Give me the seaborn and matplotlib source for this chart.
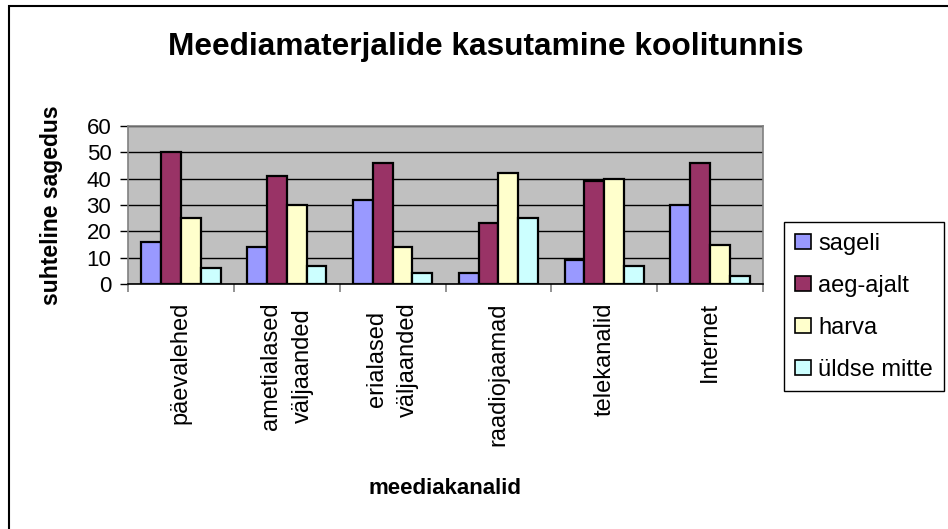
import matplotlib
matplotlib.use("Agg")
import matplotlib.pyplot as plt
import matplotlib.patches as mpatches
from matplotlib.ticker import FixedLocator, MultipleLocator
import seaborn as sns
import pandas as pd

categories = ["päevalehed", "ametialased\nväljaanded", "erialased\nväljaanded",
              "raadiojaamad", "telekanalid", "Internet"]
series_names = ["sageli", "aeg-ajalt", "harva", "üldse mitte"]
sageli = [16, 14, 32, 4, 9, 30]
aeg_ajalt = [50, 41, 46, 23, 39, 46]
harva = [25, 30, 14, 42, 40, 15]
uldse_mitte = [6, 7, 4, 25, 7, 3]
colors = ["#9999FF", "#993366", "#FFFFCC", "#CCFFFF"]
title = "Meediamaterjalide kasutamine koolitunnis"
ylabel = "suhteline sagedus"
xlabel = "meediakanalid"

values = [sageli, aeg_ajalt, harva, uldse_mitte]
rows = []
for name, vals in zip(series_names, values):
    for cat, v in zip(categories, vals):
        rows.append({"kanal": cat, "seeria": name, "vaartus": v})
df = pd.DataFrame(rows)

sns.set_style("white")
plt.rcParams["font.family"] = ["Liberation Sans", "DejaVu Sans"]
plt.rcParams["text.color"] = "black"
plt.rcParams["axes.labelcolor"] = "black"
plt.rcParams["xtick.color"] = "black"
plt.rcParams["ytick.color"] = "black"

fig = plt.figure(figsize=(9.48, 5.29), dpi=100)
W, H = 948, 529
ax = fig.add_axes([128 / W, 1 - 284 / H, (763 - 128) / W, (284 - 126) / H])
ax.set_facecolor("#C0C0C0")

sns.barplot(data=df, x="kanal", y="vaartus", hue="seeria", order=categories,
            hue_order=series_names, palette=colors, width=0.75, gap=0,
            edgecolor="black", linewidth=1.6, saturation=1, ax=ax, legend=True,
            errorbar=None)

ax.set_ylim(0, 60)
ax.set_xlim(-0.5, len(categories) - 0.5)
ax.yaxis.set_major_locator(MultipleLocator(10))
ax.grid(axis="y", color="black", linewidth=1.0)
ax.set_axisbelow(True)

for s in ["top", "right", "left"]:
    ax.spines[s].set_color("#808080")
    ax.spines[s].set_linewidth(1.2)
ax.spines["bottom"].set_color("black")
ax.spines["bottom"].set_linewidth(1.2)

ax.tick_params(axis="y", which="major", left=True, direction="out", length=6,
               width=1, color="black", labelsize=16, labelcolor="black", pad=6)
ax.tick_params(axis="x", which="major", bottom=True, length=0, labelsize=17,
               labelcolor="black", pad=13)
ax.xaxis.set_minor_locator(FixedLocator([i - 0.5 for i in range(len(categories) + 1)]))
ax.tick_params(axis="x", which="minor", bottom=True, direction="out", length=6,
               width=1.2, color="#808080")
for lbl in ax.get_xticklabels():
    lbl.set_rotation(90)
    lbl.set_ha("center")
    lbl.set_va("top")
    lbl.set_multialignment("center")
    lbl.set_linespacing(1.55)

ax.set_ylabel(ylabel, fontsize=16.5, fontweight="bold", color="black")
ax.yaxis.set_label_coords((63 - 128) / (763 - 128), 0.5)
ax.set_xlabel(xlabel, fontsize=16, fontweight="bold", va="center", color="black")
ax.xaxis.set_label_coords(0.5, (284 - 488) / (284 - 126))

fig.text(486 / W, 1 - 47 / H, title, ha="center", va="center",
         fontsize=22.8, fontweight="bold", color="black")

handles = [mpatches.Patch(facecolor=c, edgecolor="black", linewidth=1.2) for c in colors]
ax.legend(handles, series_names, loc="upper left",
          bbox_to_anchor=(784 / W, 1 - 222 / H), bbox_transform=fig.transFigure,
          fontsize=17, frameon=True, fancybox=False, edgecolor="black",
          framealpha=1, borderpad=0.45, labelspacing=0.85, handlelength=0.7,
          handleheight=0.6, handletextpad=0.3, borderaxespad=0, labelcolor="black")
leg = ax.get_legend()
leg.get_frame().set_linewidth(1.0)

border = mpatches.Rectangle((9 / W, -0.2), 1.5, 1 - 6 / H + 0.2,
                            transform=fig.transFigure, fill=False,
                            edgecolor="black", linewidth=1.5, clip_on=False)
fig.patches.append(border)

fig.savefig("out.png", dpi=100)
